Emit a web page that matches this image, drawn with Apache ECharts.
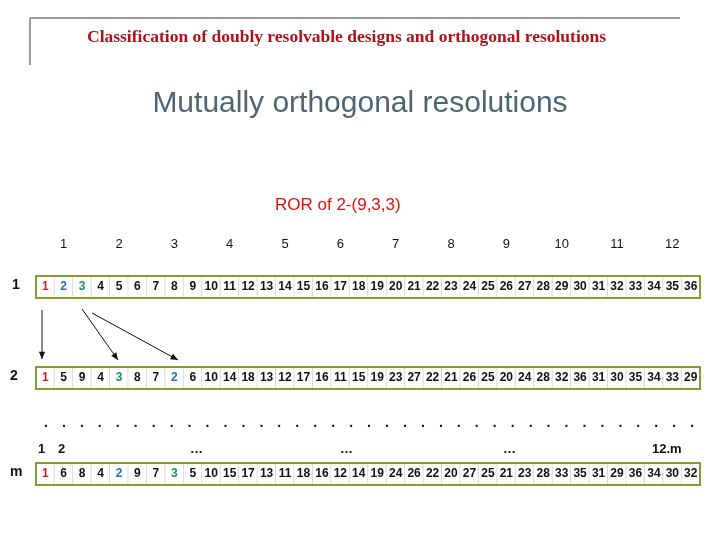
<!DOCTYPE html>
<html><head><meta charset="utf-8">
<script src="https://cdn.jsdelivr.net/npm/echarts@6/dist/echarts.min.js"></script>
<style>html,body{margin:0;padding:0;background:#fff}#c{width:720px;height:540px}</style>
</head><body><div id="c"></div>
<script>
const groupLabels = ['1','2','3','4','5','6','7','8','9','10','11','12'];
const row1 = [1,2,3,4,5,6,7,8,9,10,11,12,13,14,15,16,17,18,19,20,21,22,23,24,25,26,27,28,29,30,31,32,33,34,35,36];
const row2 = [1,5,9,4,3,8,7,2,6,10,14,18,13,12,17,16,11,15,19,23,27,22,21,26,25,20,24,28,32,36,31,30,35,34,33,29];
const rowM = [1,6,8,4,2,9,7,3,5,10,15,17,13,11,18,16,12,14,19,24,26,22,20,27,25,21,23,28,33,35,31,29,36,34,30,32];
const rowNames = ['1','2','m'];
const highlight = {1:'#d21f1f',2:'#1f72bb',3:'#169a4e'};
const border = '#8c9a2e';

const chart = echarts.init(document.getElementById('c'));
const cells = [...Array(36).keys()].map(String);
const rows = [row1,row2,rowM];
const tops = [276,367,463];
const grids=[],xAxes=[],yAxes=[],series=[];
const rf = c=>({color:c,fontWeight:'bold',fontSize:12,fontFamily:'Arial'});
rows.forEach((r,i)=>{
  grids.push({left:36,right:20,top:tops[i],height:22});
  xAxes.push({type:'category',gridIndex:i,data:cells,axisLabel:{show:false},axisTick:{show:false},
    axisLine:{show:false},splitLine:{show:true,interval:(idx)=>idx%3===0&&idx>0,lineStyle:{color:border,width:2}}});
  yAxes.push({type:'category',gridIndex:i,data:['r'],show:false});
  series.push({type:'heatmap',xAxisIndex:i,yAxisIndex:i,z:1,
    data:r.map((v,j)=>({value:[j,0,v],itemStyle:{color:'#fff',borderColor:'#c8c8c8',borderWidth:0.6}})),
    label:{show:true,fontFamily:'Arial',fontWeight:'bold',fontSize:12,color:'#111',
      formatter:p=>{const v=p.data.value[2];return highlight[v]?'{h'+v+'|'+v+'}':String(v);},
      rich:{h1:rf(highlight[1]),h2:rf(highlight[2]),h3:rf(highlight[3])}}
  });
});
grids.push({left:36,right:20,top:236,height:16});
xAxes.push({type:'category',gridIndex:3,data:groupLabels,axisLine:{show:false},axisTick:{show:false},
  axisLabel:{fontFamily:'Arial',fontSize:13,color:'#111',margin:-14}});
yAxes.push({type:'value',gridIndex:3,show:false});
series.push({type:'bar',xAxisIndex:3,yAxisIndex:3,data:[]});

const g=[];
g.push({type:'line',shape:{x1:30,y1:18,x2:680,y2:18},style:{stroke:'#999',lineWidth:2}});
g.push({type:'line',shape:{x1:30,y1:18,x2:30,y2:65},style:{stroke:'#999',lineWidth:2}});
g.push({type:'text',left:87,top:28,style:{text:'Classification of doubly resolvable designs and orthogonal resolutions',fill:'#b01018',font:'bold 17.5px "Liberation Serif", serif'}});
g.push({type:'text',left:'center',top:89,style:{text:'Mutually orthogonal resolutions',fill:'#4f6473',font:'30px "Liberation Sans", Arial',shadowColor:'rgba(0,0,0,0.3)',shadowOffsetX:2,shadowOffsetY:2,shadowBlur:2}});
g.push({type:'text',left:275,top:197,style:{text:'ROR of 2-(9,3,3)',fill:'#e01010',font:'17px "Liberation Sans", Arial'}});
tops.forEach(t=>g.push({type:'rect',shape:{x:36,y:t,width:664,height:22},style:{fill:'none',stroke:border,lineWidth:2},z:10}));
[[12,278],[10,369],[10,465]].forEach((p,i)=>g.push({type:'text',x:p[0],y:p[1],style:{text:rowNames[i],font:'bold 14px "Liberation Sans", Arial',fill:'#111'}}));
for(let k=0;k<37;k++) g.push({type:'text',x:44+k*17.95,y:416,style:{text:'.',font:'bold 14px "Liberation Sans", Arial',fill:'#111'}});
[['1',38],['2',58],['…',190],['…',340],['…',503],['12.m',652]].forEach(a=>g.push({type:'text',x:a[1],y:443,style:{text:a[0],font:'bold 13px "Liberation Sans", Arial',fill:'#111'}}));
function arrow(x1,y1,x2,y2){
  g.push({type:'line',shape:{x1,y1,x2,y2},style:{stroke:'#111',lineWidth:1}});
  const a=Math.atan2(y2-y1,x2-x1),L=8,w=0.4;
  g.push({type:'polygon',shape:{points:[[x2,y2],[x2-L*Math.cos(a-w),y2-L*Math.sin(a-w)],[x2-L*Math.cos(a+w),y2-L*Math.sin(a+w)]]},style:{fill:'#111'}});
}
arrow(42,310,42,359);arrow(82,309,118,360);arrow(92,313,178,360);

chart.setOption({animation:false,grid:grids,xAxis:xAxes,yAxis:yAxes,series,graphic:g});
</script></body></html>
